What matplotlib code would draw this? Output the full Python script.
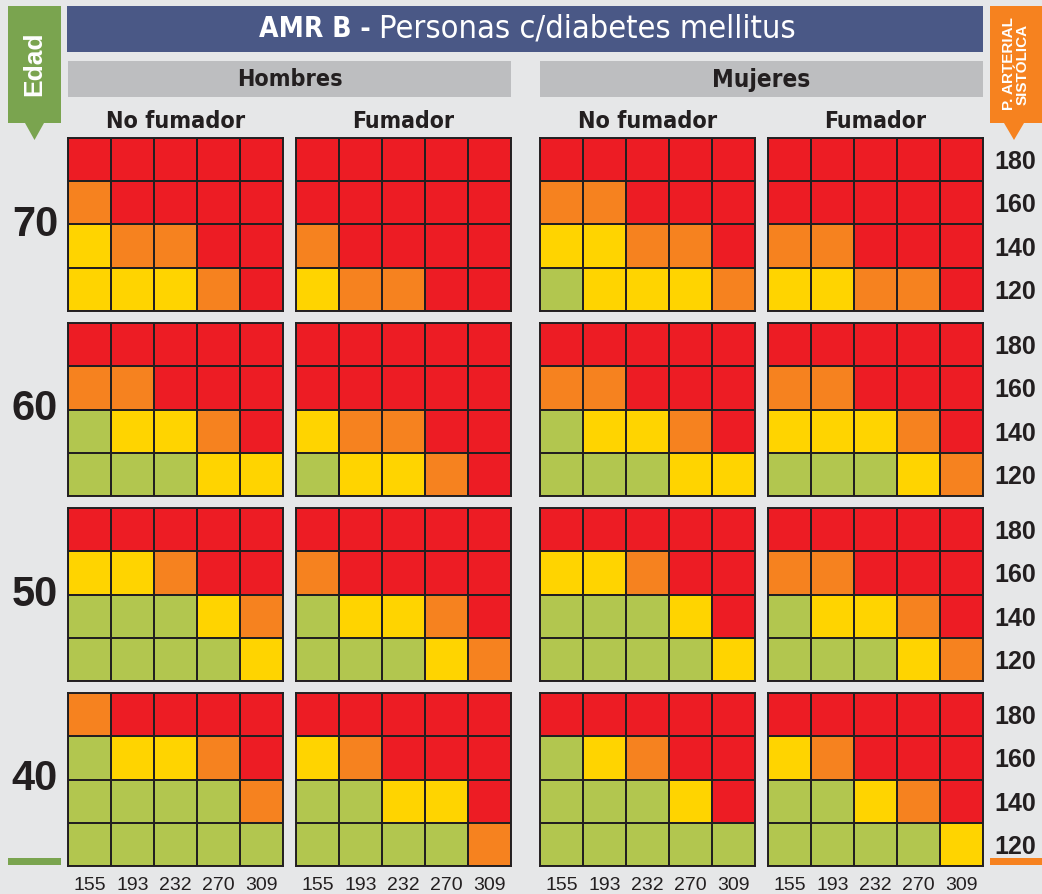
import matplotlib
matplotlib.use("Agg")
import matplotlib.pyplot as plt
from matplotlib.colors import ListedColormap, BoundaryNorm
from matplotlib.patches import Rectangle, Polygon
from matplotlib import font_manager
from matplotlib.font_manager import FontProperties
import numpy as np

# ---------------- data ----------------
title_bold = "AMR B -"
title_rest = "Personas c/diabetes mellitus"
sexes = ["Hombres", "Mujeres"]
smoking = ["No fumador", "Fumador"]
ages = [70, 60, 50, 40]
sbp_levels = [180, 160, 140, 120]          # rows, top to bottom
chol_levels = [155, 193, 232, 270, 309]    # columns
risk_colors = ["#b2c64f", "#ffd400", "#f6821f", "#ed1c24"]  # 0 green,1 yellow,2 orange,3 red

# risk category per block: [Hombres NF, Hombres F, Mujeres NF, Mujeres F]; rows 180..120
risk_70 = [
    [[3,3,3,3,3],[2,3,3,3,3],[1,2,2,3,3],[1,1,1,2,3]],
    [[3,3,3,3,3],[3,3,3,3,3],[2,3,3,3,3],[1,2,2,3,3]],
    [[3,3,3,3,3],[2,2,3,3,3],[1,1,2,2,3],[0,1,1,1,2]],
    [[3,3,3,3,3],[3,3,3,3,3],[2,2,3,3,3],[1,1,2,2,3]],
]
risk_60 = [
    [[3,3,3,3,3],[2,2,3,3,3],[0,1,1,2,3],[0,0,0,1,1]],
    [[3,3,3,3,3],[3,3,3,3,3],[1,2,2,3,3],[0,1,1,2,3]],
    [[3,3,3,3,3],[2,2,3,3,3],[0,1,1,2,3],[0,0,0,1,1]],
    [[3,3,3,3,3],[2,2,3,3,3],[1,1,1,2,3],[0,0,0,1,2]],
]
risk_50 = [
    [[3,3,3,3,3],[1,1,2,3,3],[0,0,0,1,2],[0,0,0,0,1]],
    [[3,3,3,3,3],[2,3,3,3,3],[0,1,1,2,3],[0,0,0,1,2]],
    [[3,3,3,3,3],[1,1,2,3,3],[0,0,0,1,3],[0,0,0,0,1]],
    [[3,3,3,3,3],[2,2,3,3,3],[0,1,1,2,3],[0,0,0,1,2]],
]
risk_40 = [
    [[2,3,3,3,3],[0,1,1,2,3],[0,0,0,0,2],[0,0,0,0,0]],
    [[3,3,3,3,3],[1,2,3,3,3],[0,0,1,1,3],[0,0,0,0,2]],
    [[3,3,3,3,3],[0,1,2,3,3],[0,0,0,1,3],[0,0,0,0,0]],
    [[3,3,3,3,3],[1,2,3,3,3],[0,0,1,2,3],[0,0,0,0,1]],
]
risk_by_age = [risk_70, risk_60, risk_50, risk_40]

# ---------------- fonts ----------------
sans = "Liberation Sans"


def find_condensed(bold):
    ranked = []
    for f in font_manager.fontManager.ttflist:
        key = (f.name + " " + f.fname).lower()
        if "italic" in key or "oblique" in key:
            continue
        if not ("condensed" in key or "narrow" in key):
            continue
        fl = f.fname.lower()
        isbold = ("bold" in fl and "semibold" not in fl and "extrabold" not in fl) or f.weight in ("bold", 700)
        if isbold != bold:
            continue
        if "semicondensed" in key or "semi" in key:
            rank = 2
        elif "extracondensed" in key or "ultra" in key:
            rank = 1
        elif "narrow" in key:
            rank = 3
        else:
            rank = 0
        ranked.append((rank, f.fname))
    ranked.sort()
    return ranked[0][1] if ranked else None


cond_bold = find_condensed(True)
cond_reg = find_condensed(False)


def fp(size, bold=False):
    path = cond_bold if bold else cond_reg
    if path:
        return FontProperties(fname=path, size=size)
    return FontProperties(family=sans, weight="bold" if bold else "normal", size=size)


BG = "#e6e7e8"
DARK = "#231f20"
W, H = 1042, 894
fig = plt.figure(figsize=(W / 100, H / 100), dpi=100, facecolor=BG)
renderer = fig.canvas.get_renderer()

ov = fig.add_axes([0, 0, 1, 1], zorder=0)
ov.set_xlim(0, W)
ov.set_ylim(H, 0)
ov.axis("off")
ov.set_facecolor(BG)


def fit_text(x, y, s, bold, size, target_w, max_size, **kw):
    """Place text, then scale its font size so its width is close to target_w px."""
    t = ov.text(x, y, s, fontproperties=fp(size, bold), **kw)
    w = t.get_window_extent(renderer).width
    new = min(max_size, size * target_w / w)
    t.set_fontproperties(fp(new, bold))
    return t


# title bar
ov.add_patch(Rectangle((67, 6), 916, 46, facecolor="#4a5886", edgecolor="none"))
fit_text(371, 29, title_bold, True, 24, 112, 28, color="white", ha="right", va="center")
fit_text(379, 29, title_rest, False, 24, 417, 28, color="white", ha="left", va="center")

# sex header bars
col_x = [68, 296, 540, 768]
blk_w = 215
row_y = [138, 323, 508, 693]
blk_h = 173
sex_w = [106, 98]
for i, s in enumerate(sexes):
    x0 = col_x[2 * i]
    x1 = col_x[2 * i + 1] + blk_w
    ov.add_patch(Rectangle((x0, 61), x1 - x0, 36, facecolor="#bdbec0", edgecolor="none"))
    fit_text((x0 + x1) / 2, 80, s, True, 18, sex_w[i], 19, color=DARK,
             ha="center", va="center")

# smoking sub-headers
smk_w = [140, 102]
for j, cx in enumerate(col_x):
    fit_text(cx + blk_w / 2, 121, smoking[j % 2], True, 18, smk_w[j % 2], 19,
             color=DARK, ha="center", va="center")

# Edad banner (green)
ov.add_patch(Rectangle((8, 6), 53, 117, facecolor="#7aa44f", edgecolor="none"))
ov.add_patch(Polygon([(25, 123), (44, 123), (34.5, 140)], closed=True,
                     facecolor="#7aa44f", edgecolor="none"))
ov.text(34.5, 64, "Edad", color="white", fontsize=19, fontweight="bold",
        family=sans, rotation=90, ha="center", va="center")
ov.add_patch(Rectangle((8, 858), 53, 7, facecolor="#7aa44f", edgecolor="none"))

# P. arterial banner (orange)
ov.add_patch(Rectangle((990, 6), 52, 117, facecolor="#f6821f", edgecolor="none"))
ov.add_patch(Polygon([(1004, 123), (1024, 123), (1014, 140)], closed=True,
                     facecolor="#f6821f", edgecolor="none"))
ov.text(1016, 64, "P. ARTERIAL\nSISTÓLICA", color="white", fontsize=11,
        fontweight="bold", family=sans, rotation=90, ha="center", va="center",
        linespacing=0.95)
ov.add_patch(Rectangle((990, 858), 52, 7, facecolor="#f6821f", edgecolor="none"))

# age labels
for a, y in zip(ages, row_y):
    ov.text(35, y + blk_h / 2, str(a), color=DARK, fontsize=30, fontweight="bold",
            family=sans, ha="center", va="center")

# ---------------- heat blocks ----------------
cmap = ListedColormap(risk_colors)
norm = BoundaryNorm([-0.5, 0.5, 1.5, 2.5, 3.5], cmap.N)
for r, risk_age in enumerate(risk_by_age):
    for c in range(4):
        x0, y0 = col_x[c], row_y[r]
        ax = fig.add_axes([x0 / W, 1 - (y0 + blk_h) / H, blk_w / W, blk_h / H], zorder=2)
        data = np.array(risk_age[c])
        ax.pcolormesh(np.arange(len(chol_levels) + 1), np.arange(len(sbp_levels) + 1),
                      data, cmap=cmap, norm=norm, edgecolors=DARK, linewidth=1.2)
        ax.set_xlim(0, len(chol_levels))
        ax.set_ylim(len(sbp_levels), 0)
        ax.set_xticks([])
        ax.set_yticks([])
        for sp in ax.spines.values():
            sp.set_color(DARK)
            sp.set_linewidth(1.4)
        if c == 3:
            ax.set_yticks(np.arange(len(sbp_levels)) + 0.5)
            ax.set_yticklabels([str(v) for v in sbp_levels], fontsize=18,
                               fontweight="bold", family=sans, color=DARK)
            ax.yaxis.tick_right()
            ax.tick_params(axis="y", length=0, pad=8)
        if r == 3:
            ax.set_xticks(np.arange(len(chol_levels)) + 0.5)
            ax.set_xticklabels([str(v) for v in chol_levels], fontsize=14,
                               family=sans, color=DARK)
            ax.tick_params(axis="x", length=0, pad=8)

fig.savefig("out.png", dpi=100, facecolor=BG)
